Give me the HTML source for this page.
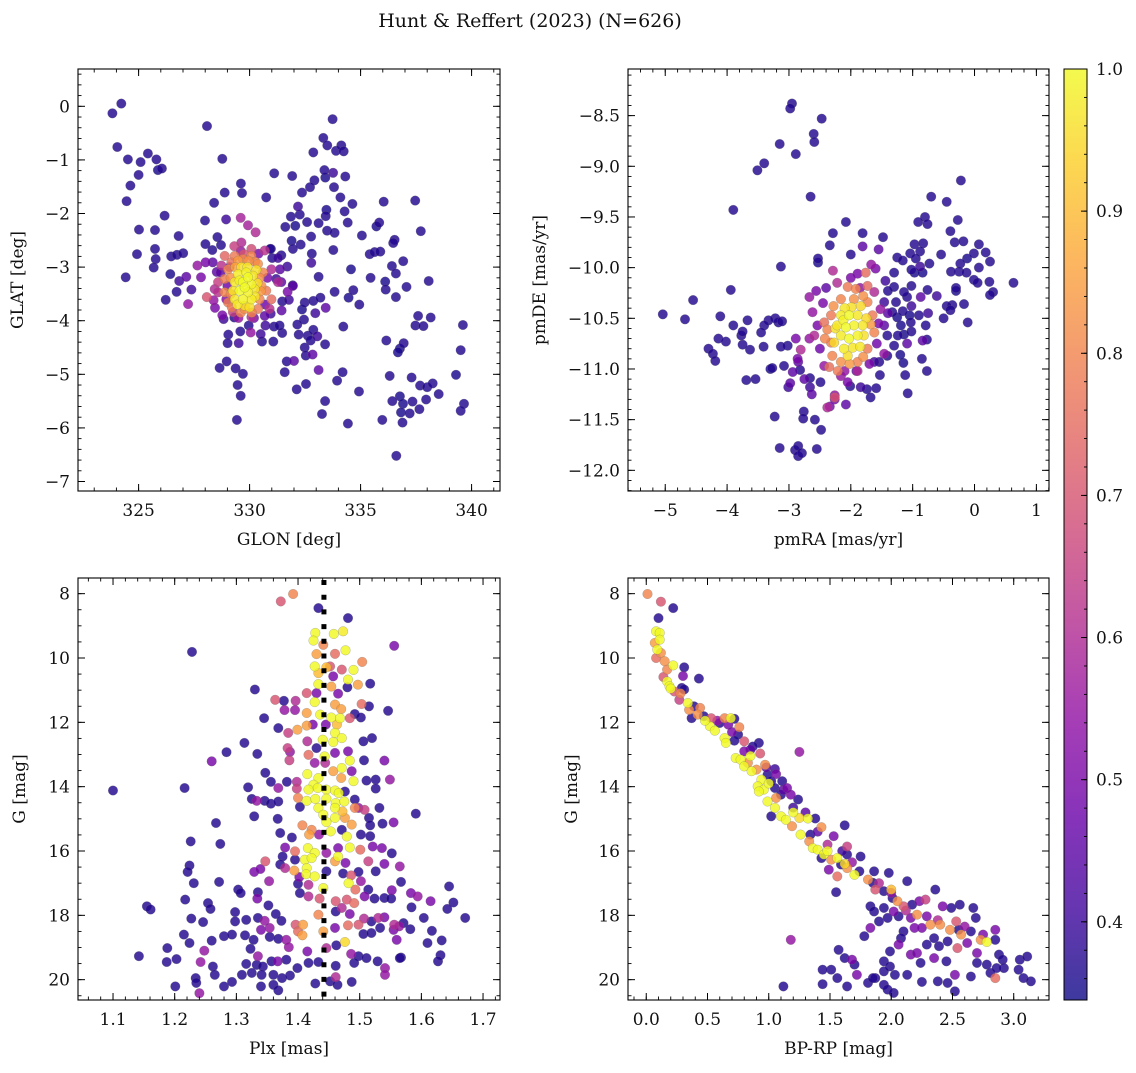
<!DOCTYPE html>
<html><head><meta charset="utf-8">
<style>
html,body{margin:0;padding:0;background:#fff;}
svg text{font-family:"DejaVu Serif","Liberation Serif",serif;fill:#111;}
</style></head>
<body>
<svg id="fig" width="1136" height="1068" viewBox="0 0 1136 1068" xmlns="http://www.w3.org/2000/svg">
<defs>
<linearGradient id="cbgrad" x1="0" y1="1" x2="0" y2="0">
<stop offset="0" stop-color="#0d0887"/><stop offset="0.1" stop-color="#41049d"/><stop offset="0.2" stop-color="#6a00a8"/><stop offset="0.3" stop-color="#8f0da4"/><stop offset="0.4" stop-color="#b12a90"/><stop offset="0.5" stop-color="#cc4778"/><stop offset="0.6" stop-color="#e16462"/><stop offset="0.7" stop-color="#f2844b"/><stop offset="0.8" stop-color="#fca636"/><stop offset="0.9" stop-color="#fcce25"/><stop offset="1" stop-color="#f0f921"/>
</linearGradient>
</defs>
<text x="530" y="27" font-size="19" text-anchor="middle">Hunt &amp; Reffert (2023) (N=626)</text>
</svg>
<script>
// ---- data: [x, y, probability] ----
const skyPoints = [
[323.82,-0.13,.37],[324.22,0.05,.37],[324.04,-0.76,.37],[324.52,-0.99,.37],[325.09,-1.04,.37],[325.42,-0.88,.37],[325.80,-0.99,.37],[325.87,-1.19,.36],[326.05,-1.16,.37],[325.00,-1.28,.37],[324.63,-1.48,.37],[324.46,-1.77,.37],[328.08,-0.37,.37],[328.77,-0.98,.37],[326.17,-2.04,.37],[325.02,-2.30,.37],[325.74,-2.31,.37],[324.93,-2.76,.37],[325.74,-2.66,.37],[325.77,-2.85,.37],[325.68,-3.01,.37],[324.42,-3.19,.37],[326.22,-3.61,.37],[326.80,-2.42,.37],[326.47,-2.80,.37],[326.73,-2.77,.37],[327.01,-2.74,.37],[326.43,-3.13,.36],[326.83,-3.26,.4],[326.71,-3.46,.37],[327.38,-3.42,.4],[327.15,-3.18,.45],[327.23,-3.69,.55],[327.99,-2.13,.37],[328.40,-1.80,.37],[328.88,-1.61,.37],[329.61,-1.44,.37],[329.66,-1.62,.37],[328.94,-2.11,.4],[328.01,-2.57,.37],[328.32,-2.68,.37],[328.55,-2.44,.37],[328.71,-2.59,.37],[330.75,-1.70,.37],[331.11,-1.25,.37],[331.92,-1.30,.37],[332.87,-0.86,.37],[333.32,-0.59,.37],[333.50,-0.73,.37],[333.74,-0.24,.37],[333.89,-0.83,.37],[334.13,-0.73,.37],[334.24,-0.84,.37],[333.37,-1.19,.37],[333.41,-1.33,.36],[333.76,-1.24,.4],[334.31,-1.31,.37],[332.92,-1.38,.37],[332.72,-1.51,.37],[332.36,-1.61,.37],[333.80,-1.51,.37],[334.09,-1.70,.37],[334.63,-1.82,.37],[334.28,-1.96,.37],[334.42,-2.17,.37],[333.46,-1.93,.36],[333.43,-2.05,.37],[332.18,-1.87,.4],[331.86,-2.06,.37],[332.26,-2.02,.37],[332.06,-2.23,.36],[331.61,-2.25,.37],[332.59,-2.16,.37],[333.11,-2.18,.37],[333.49,-2.32,.37],[333.83,-2.36,.37],[332.77,-2.43,.37],[331.89,-2.51,.36],[332.30,-2.58,.37],[331.95,-2.66,.37],[331.43,-2.78,.37],[330.96,-2.66,.36],[331.02,-2.83,.37],[332.80,-2.75,.37],[332.78,-2.92,.4],[333.77,-2.68,.37],[331.70,-2.99,.4],[333.11,-3.18,.37],[331.94,-3.34,.37],[333.83,-3.46,.37],[334.57,-3.04,.36],[334.67,-3.43,.37],[334.46,-3.57,.36],[334.94,-3.70,.37],[335.06,-2.41,.37],[335.71,-2.24,.36],[335.84,-2.17,.37],[336.04,-1.78,.37],[335.41,-2.76,.37],[335.63,-2.72,.37],[335.89,-2.71,.37],[336.53,-2.49,.37],[336.47,-2.55,.37],[337.46,-1.76,.37],[337.71,-2.33,.37],[336.41,-2.98,.37],[336.92,-2.89,.37],[336.59,-3.12,.37],[335.45,-3.20,.37],[336.11,-3.27,.36],[336.13,-3.42,.37],[337.07,-3.37,.37],[336.59,-3.56,.37],[338.07,-3.26,.37],[332.48,-3.66,.37],[332.87,-3.63,.37],[333.19,-3.57,.37],[332.36,-3.79,.36],[332.96,-3.86,.4],[333.43,-3.76,.45],[332.45,-3.98,.37],[332.15,-4.07,.37],[332.21,-4.26,.37],[332.62,-4.28,.37],[332.87,-4.17,.37],[333.05,-4.29,.4],[332.75,-4.37,.37],[333.40,-4.44,.37],[332.48,-4.50,.37],[332.84,-4.63,.45],[332.53,-4.65,.37],[334.22,-4.11,.37],[337.59,-3.91,.37],[338.16,-3.94,.37],[337.47,-4.09,.37],[337.83,-4.10,.37],[339.61,-4.08,.37],[336.16,-4.37,.37],[336.94,-4.42,.37],[336.77,-4.52,.36],[336.68,-4.59,.36],[339.51,-4.55,.37],[331.67,-4.76,.37],[331.58,-4.96,.37],[332.00,-4.75,.45],[333.11,-4.92,.45],[334.19,-4.96,.37],[333.94,-5.12,.37],[332.54,-5.18,.37],[332.12,-5.28,.37],[334.93,-5.32,.37],[333.40,-5.50,.37],[333.26,-5.74,.37],[334.43,-5.92,.37],[335.98,-5.85,.37],[336.31,-5.03,.37],[337.30,-5.06,.37],[337.68,-5.21,.37],[338.00,-5.24,.37],[338.25,-5.17,.37],[338.52,-5.37,.37],[337.95,-5.47,.37],[336.43,-5.50,.37],[336.77,-5.41,.36],[336.91,-5.55,.36],[337.34,-5.51,.37],[336.82,-5.71,.36],[337.21,-5.73,.37],[337.65,-5.65,.37],[336.89,-5.90,.37],[339.30,-5.01,.36],[339.66,-5.55,.37],[339.51,-5.68,.37],[336.61,-6.52,.37],[328.65,-4.88,.37],[328.97,-4.76,.37],[329.37,-4.89,.37],[329.70,-4.99,.37],[329.46,-5.20,.37],[329.60,-5.40,.37],[329.43,-5.85,.37],[329.04,-4.26,.37],[329.01,-4.42,.37],[329.51,-4.42,.4],[329.58,-4.20,.37],[329.96,-4.09,.37],[330.05,-4.22,.55],[330.50,-4.25,.4],[330.56,-4.39,.37],[331.07,-4.39,.37],[331.47,-4.23,.37],[331.10,-4.11,.37],[330.71,-4.09,.4],[331.35,-4.09,.37],[328.83,-3.97,.4],[329.31,-3.94,.37],[331.44,-3.81,.45],[330.95,-3.87,.4],[331.47,-3.64,.37],[331.77,-3.61,.4],[331.71,-3.46,.5],[331.95,-3.35,.45],[331.43,-3.28,.45],[331.20,-3.22,.4],[331.37,-3.04,.45],[331.28,-2.83,.4],[330.93,-2.66,.37],[329.60,-2.08,.58],[329.93,-2.22,.58],[330.27,-2.35,.6],[329.63,-2.54,.6],[329.31,-2.61,.65],[329.75,-2.76,.7],[328.02,-2.91,.5],[327.65,-2.97,.55],[327.81,-3.19,.5],[328.07,-3.56,.7],[328.38,-3.62,.55],[328.44,-3.76,.5],[328.52,-3.09,.45],[328.34,-2.91,.45],[328.77,-3.90,.5],[330.08,-3.93,.6],[330.68,-3.91,.45],
[328.73,-2.97,.62],[328.58,-3.28,.65],[328.58,-3.47,.62],[330.98,-3.04,.6],[331.28,-3.28,.6],[330.90,-3.78,.62],[329.25,-3.84,.65],[330.08,-2.66,.68],[330.68,-2.69,.62],[328.43,-3.41,.6],
[329.10,-3.00,.5],[329.00,-3.35,.48],[328.95,-3.60,.52],[330.80,-3.20,.5],[330.70,-3.70,.48],[330.20,-3.95,.5],[329.50,-3.95,.55],[329.60,-2.70,.55],[330.40,-2.75,.5],[328.70,-3.10,.45],
[329.33,-2.79,.78],[330.08,-2.79,.8],[330.38,-2.94,.82],[330.60,-3.10,.8],[330.53,-3.35,.82],[330.45,-3.60,.8],[330.38,-3.78,.78],[329.78,-3.78,.82],[329.03,-3.66,.78],[328.88,-3.47,.8],[328.88,-3.22,.78],[329.03,-3.04,.8],[329.48,-2.88,.84],[330.98,-3.60,.75],[330.75,-3.44,.78],[329.18,-2.91,.76],[328.88,-2.79,.74],
[329.70,-2.85,.8],[329.95,-2.88,.82],[330.25,-2.90,.8],[329.15,-3.20,.82],[329.15,-3.50,.8],[329.20,-3.75,.78],[330.45,-3.20,.82],[330.50,-3.45,.84],[330.10,-3.85,.8],[329.60,-3.85,.8],[329.35,-3.00,.86],
[329.48,-3.13,.98],[329.85,-3.10,.99],[330.15,-3.16,.97],[329.33,-3.28,.97],[329.70,-3.28,1.0],[330.08,-3.32,.99],[329.55,-3.44,1.0],[329.93,-3.47,.99],[330.23,-3.41,.97],[329.33,-3.60,.97],[329.70,-3.60,.99],[330.08,-3.60,.98],[329.78,-3.72,.96],[329.63,-3.00,.96],[329.25,-3.44,.96],[329.93,-3.19,1.0],[329.78,-3.38,1.0],
[329.90,-3.00,.97],[330.30,-3.05,.96],[329.45,-3.70,.97],[330.00,-3.75,.96],[330.25,-3.55,.97],[329.55,-3.25,.99],[330.35,-3.30,.96]
];
const pmPoints = [
[-2.95,-8.38,.37],[-2.98,-8.43,.37],[-2.47,-8.53,.37],[-2.60,-8.68,.37],[-2.59,-8.76,.37],[-3.15,-8.78,.37],[-2.89,-8.88,.37],[-3.40,-8.97,.37],[-3.51,-9.04,.37],[-2.65,-9.30,.37],[-3.90,-9.43,.37],[-0.22,-9.14,.37],[-0.70,-9.30,.37],[-0.45,-9.35,.37],[-0.80,-9.50,.37],[-0.91,-9.55,.37],[-0.76,-9.57,.37],[-0.27,-9.53,.37],[-0.39,-9.64,.37],[-0.32,-9.75,.37],[-0.18,-9.74,.37],[-2.08,-9.55,.37],[-2.29,-9.66,.37],[-1.81,-9.66,.37],[-1.48,-9.70,.37],[-2.34,-9.78,.37],[-1.81,-9.79,.45],[-1.55,-9.82,.45],[-2.00,-9.87,.37],[-2.53,-9.91,.37],[-2.53,-9.95,.36],[-3.13,-9.99,.37],[-1.25,-9.90,.37],[-1.16,-9.93,.37],[-1.04,-9.86,.37],[-0.97,-9.77,.37],[-0.83,-9.76,.37],[-0.88,-9.84,.37],[-0.95,-9.91,.37],[-0.54,-9.87,.37],[0.07,-9.77,.37],[-0.01,-9.86,.37],[0.18,-9.85,.37],[-0.12,-9.91,.36],[-0.23,-9.96,.37],[0.25,-9.94,.37],[0.07,-10.00,.37],[-0.25,-10.04,.37],[-0.38,-10.04,.37],[-0.13,-10.05,.37],[-0.01,-10.12,.37],[0.24,-10.14,.37],[0.30,-10.24,.37],[0.25,-10.27,.37],[0.05,-10.15,.37],[0.63,-10.15,.37],[-0.30,-10.20,.37],[-0.30,-10.23,.36],[-0.17,-10.36,.37],[-0.36,-10.37,.37],[-0.45,-10.38,.37],[-0.39,-10.42,.37],[-0.50,-10.50,.37],[-0.11,-10.54,.37],[-0.76,-10.22,.37],[-0.61,-10.28,.4],[-0.87,-10.29,.45],[-0.75,-10.45,.4],[-0.79,-10.57,.37],[-0.77,-10.71,.37],[-0.84,-10.72,.45],[-0.85,-10.90,.37],[-0.77,-11.02,.37],[-1.08,-11.24,.37],[-1.12,-11.06,.37],[-1.15,-10.94,.36],[-1.09,-10.75,.45],[-1.02,-10.63,.37],[-1.03,-10.54,.37],[-1.14,-10.66,.36],[-1.24,-10.67,.37],[-1.19,-10.57,.36],[-1.02,-10.38,.4],[-0.90,-10.47,.37],[-1.05,-10.47,.36],[-1.16,-10.43,.37],[-1.09,-10.29,.37],[-1.02,-10.18,.37],[-1.14,-10.24,.37],[-1.02,-10.02,.37],[-0.97,-10.05,.36],[-0.88,-9.99,.4],[-0.73,-9.96,.37],[-0.84,-10.05,.36],[-1.30,-10.05,.37],[-1.44,-10.13,.4],[-1.30,-10.19,.37],[-1.40,-10.23,.37],[-1.46,-10.34,.4],[-1.27,-10.34,.37],[-1.33,-10.44,.37],[-1.25,-10.49,.36],[-1.46,-10.57,.45],[-1.41,-10.67,.37],[-1.30,-10.77,.37],[-1.41,-10.87,.37],[-1.20,-10.86,.36],[-1.54,-10.93,.37],[-1.62,-10.93,.4],[-1.53,-11.06,.37],[-1.74,-11.20,.37],[-1.59,-11.19,.37],[-1.68,-11.28,.37],[-1.84,-11.18,.4],[-2.01,-11.17,.37],[-1.91,-11.02,.45],[-2.08,-11.35,.45],[-2.26,-11.26,.55],[-2.26,-11.30,.5],[-2.34,-11.37,.5],[-2.76,-11.42,.37],[-2.77,-11.49,.37],[-2.58,-11.50,.37],[-2.48,-11.60,.37],[-3.23,-11.47,.37],[-3.15,-11.78,.37],[-2.90,-11.80,.37],[-2.85,-11.76,.37],[-2.85,-11.86,.37],[-2.79,-11.83,.37],[-2.55,-11.79,.37],[-2.63,-11.25,.45],[-2.66,-11.18,.4],[-2.49,-11.13,.37],[-2.66,-11.09,.37],[-2.75,-11.10,.45],[-2.98,-11.14,.45],[-3.01,-11.18,.4],[-2.94,-11.03,.45],[-3.08,-10.97,.37],[-2.85,-10.93,.45],[-2.82,-11.01,.37],[-2.89,-10.70,.5],[-3.02,-10.77,.37],[-3.13,-10.78,.37],[-3.17,-10.54,.37],[-3.22,-10.50,.37],[-3.11,-10.53,.37],[-3.33,-10.52,.37],[-3.40,-10.57,.37],[-3.45,-10.64,.37],[-3.41,-10.78,.37],[-3.27,-10.99,.37],[-3.30,-11.00,.36],[-3.69,-11.11,.37],[-3.54,-11.10,.37],[-3.63,-10.81,.37],[-3.75,-10.76,.37],[-3.77,-10.67,.37],[-3.75,-10.63,.37],[-3.67,-10.52,.37],[-3.90,-10.57,.37],[-4.11,-10.48,.37],[-4.14,-10.70,.37],[-4.02,-10.73,.37],[-4.30,-10.80,.37],[-4.23,-10.85,.37],[-4.19,-10.92,.37],[-3.94,-10.22,.37],[-4.55,-10.32,.37],[-4.68,-10.51,.37],[-5.04,-10.46,.37],
[-2.67,-10.29,.55],[-2.62,-10.44,.55],[-2.56,-10.23,.5],[-2.67,-10.70,.55],[-2.81,-10.81,.6],[-2.86,-10.90,.5],[-2.38,-11.38,.6],[-2.26,-11.28,.7],[-2.54,-10.57,.5],[-2.59,-10.67,.6],[-2.43,-10.97,.55],[-2.16,-11.07,.55],[-2.05,-11.13,.5],[-2.29,-10.03,.6],[-2.22,-10.15,.6],[-1.67,-9.97,.55],[-1.60,-10.01,.5],[-1.76,-10.05,.75],[-1.89,-10.06,.5],[-1.73,-10.18,.75],[-1.62,-10.24,.6],[-1.52,-10.41,.55],[-1.46,-10.85,.55],[-1.89,-11.02,.6],
[-2.45,-10.35,.5],[-2.50,-10.80,.48],[-1.55,-10.55,.5],[-1.58,-10.75,.48],[-1.70,-10.95,.5],[-2.00,-10.10,.5],[-1.85,-10.20,.55],[-2.40,-10.20,.45],[-1.40,-10.45,.45],[-2.10,-11.02,.55],
[-2.05,-10.19,.78],[-1.92,-10.21,.8],[-1.95,-10.31,.82],[-2.16,-10.31,.8],[-2.32,-10.47,.78],[-2.38,-10.61,.8],[-2.32,-10.74,.78],[-2.30,-10.87,.8],[-2.16,-10.93,.82],[-1.89,-10.93,.8],[-1.73,-10.80,.78],[-1.62,-10.64,.8],[-1.65,-10.47,.78],[-1.73,-10.34,.8],[-2.35,-10.98,.76],[-2.21,-11.02,.78],[-2.43,-10.54,.76],
[-2.28,-10.38,.82],[-1.80,-10.28,.82],[-1.68,-10.56,.84],[-1.80,-10.88,.82],[-2.02,-10.95,.84],[-2.42,-10.70,.8],
[-2.16,-10.47,.98],[-2.03,-10.47,1.0],[-1.89,-10.47,.97],[-2.22,-10.57,.97],[-2.08,-10.59,1.0],[-1.95,-10.57,.99],[-1.81,-10.57,.97],[-2.16,-10.67,.98],[-2.03,-10.70,1.0],[-1.89,-10.67,.99],[-1.79,-10.67,.96],[-2.11,-10.80,.98],[-1.97,-10.79,.97],[-2.05,-10.87,.96],[-2.27,-10.74,.95],[-1.99,-10.39,.96],[-1.84,-10.38,.95],
[-2.10,-10.40,.97],[-2.25,-10.60,.96],[-1.85,-10.78,.97],[-1.75,-10.50,.95],[-2.12,-10.52,.99]
];
const plxPoints = [
[1.392,8.01,.8],[1.372,8.24,.7],[1.433,8.45,.37],[1.481,8.76,.37],[1.428,9.22,1],[1.425,9.46,1],[1.458,9.25,1],[1.473,9.17,.98],[1.441,9.59,.8],[1.556,9.62,.5],[1.228,9.81,.37],[1.477,9.76,1],[1.460,9.87,.75],[1.430,9.88,.85],[1.427,10.26,1],[1.446,10.29,.9],[1.452,10.26,.7],[1.471,10.36,.7],[1.490,10.37,1],[1.504,10.12,.8],[1.433,10.47,.9],[1.457,10.57,.5],[1.481,10.67,1],[1.497,10.83,.85],[1.517,10.80,.37],[1.433,10.81,1],[1.454,10.89,.85],[1.330,10.98,.37],[1.414,11.09,.7],[1.430,11.09,.5],[1.465,11.11,.5],[1.480,10.91,.37],[1.363,11.30,.7],[1.377,11.33,.37],[1.396,11.33,.6],[1.427,11.37,1],[1.460,11.45,.85],[1.470,11.59,.85],[1.503,11.43,.75],[1.515,11.50,.37],[1.546,11.64,.37],[1.378,11.62,.55],[1.395,11.62,.55],[1.414,11.71,.85],[1.436,11.76,1],[1.454,11.85,1],[1.468,11.87,1],[1.484,11.87,.7],[1.492,11.74,.37],[1.502,11.85,.37],[1.345,11.87,.37],[1.399,12.23,.85],[1.414,12.10,.85],[1.424,12.07,.5],[1.445,12.07,.5],[1.463,12.07,.9],[1.460,12.33,1],[1.471,12.49,1],[1.457,12.61,1],[1.384,12.33,.65],[1.368,12.18,.37],[1.313,12.64,.37],[1.284,12.93,.37],[1.334,12.98,.37],[1.260,13.21,.5],[1.383,12.80,.65],[1.415,12.59,.6],[1.430,12.80,.37],[1.440,12.54,1],[1.417,13.01,.75],[1.387,12.92,.55],[1.386,13.18,.65],[1.443,13.06,1],[1.460,12.95,.5],[1.481,12.90,.5],[1.484,13.19,1],[1.506,12.59,.37],[1.520,12.49,.37],[1.507,13.18,.37],[1.540,13.19,.5],[1.444,13.26,.6],[1.427,13.26,.55],[1.471,13.42,1],[1.457,13.52,.85],[1.487,13.52,.5],[1.470,13.73,.85],[1.490,13.83,1],[1.347,13.57,.37],[1.356,13.85,.37],[1.382,13.85,.37],[1.398,13.85,.6],[1.415,13.61,1],[1.433,13.73,1],[1.425,13.94,1],[1.417,14.09,1],[1.432,14.04,1],[1.446,14.09,1],[1.460,14.12,1],[1.466,14.20,1],[1.476,14.15,.37],[1.511,13.81,.37],[1.526,13.78,.37],[1.526,14.06,.37],[1.549,13.78,.55],[1.368,14.04,.55],[1.398,14.06,.65],[1.319,14.02,.37],[1.216,14.04,.37],[1.100,14.12,.37],[1.325,14.38,.37],[1.333,14.44,.55],[1.346,14.44,.37],[1.356,14.53,.37],[1.368,14.46,.37],[1.400,14.35,.8],[1.414,14.44,1],[1.428,14.38,1],[1.446,14.37,1],[1.461,14.51,1],[1.475,14.46,1],[1.492,14.40,.37],[1.498,14.66,.55],[1.508,14.72,.65],[1.403,14.63,.37],[1.433,14.66,1],[1.460,14.66,1],[1.472,14.77,.9],[1.492,14.66,.8],[1.532,14.66,.37],[1.591,14.84,.37],[1.329,14.92,.37],[1.367,15.00,.37],[1.267,15.13,.37],[1.441,14.87,1],[1.460,14.97,1],[1.476,14.97,.85],[1.487,15.18,.85],[1.515,14.97,.37],[1.517,15.20,.37],[1.537,15.15,.37],[1.555,15.11,.5],[1.446,15.10,1],[1.407,15.20,.8],[1.422,15.34,.8],[1.371,15.44,.37],[1.390,15.58,.37],[1.418,15.49,.85],[1.434,15.49,.55],[1.453,15.39,1],[1.471,15.34,.37],[1.479,15.55,1],[1.502,15.49,.37],[1.517,15.54,.37],[1.226,15.70,.37],[1.274,15.78,.37],[1.379,15.89,.5],[1.395,16.01,.75],[1.416,15.91,1],[1.427,16.06,1],[1.446,16.06,.55],[1.465,15.91,.5],[1.484,15.89,1],[1.501,15.96,.75],[1.521,15.86,.5],[1.536,15.91,.5],[1.552,16.07,.37],[1.375,16.17,.37],[1.395,16.27,.37],[1.411,16.27,1],[1.422,16.22,1],[1.465,16.17,1],[1.460,16.32,.85],[1.477,16.37,.5],[1.514,16.32,.65],[1.540,16.40,.5],[1.565,16.48,.55],[1.347,16.32,.7],[1.329,16.65,.5],[1.339,16.56,.5],[1.224,16.45,.37],[1.221,16.65,.37],[1.371,16.42,.37],[1.379,16.53,.6],[1.394,16.61,.85],[1.414,16.53,1],[1.413,16.72,1],[1.427,16.79,1],[1.402,16.81,.5],[1.446,16.63,.37],[1.473,16.70,.37],[1.486,16.76,.7],[1.498,16.65,.37],[1.526,16.63,.37],[1.231,17.00,.37],[1.272,16.96,.37],[1.353,16.94,.55],[1.400,17.02,.37],[1.417,17.05,.6],[1.441,17.15,1],[1.482,17.00,1],[1.493,17.20,.75],[1.502,16.94,.55],[1.514,17.20,.37],[1.567,16.96,.37],[1.645,17.10,.37],[1.303,17.20,.37],[1.307,17.31,.37],[1.335,17.28,.37],[1.403,17.31,.37],[1.417,17.41,.6],[1.435,17.48,.7],[1.461,17.56,.7],[1.479,17.51,.7],[1.491,17.62,.75],[1.508,17.41,.5],[1.524,17.48,.37],[1.552,17.22,.5],[1.540,17.46,.37],[1.551,17.48,.37],[1.583,17.31,.5],[1.594,17.41,.55],[1.615,17.56,.5],[1.652,17.60,.37],[1.642,17.80,.37],[1.217,17.51,.37],[1.254,17.62,.37],[1.258,17.80,.37],[1.334,17.48,.5],[1.352,17.69,.37],[1.155,17.72,.37],[1.161,17.82,.37],[1.298,17.90,.37],[1.316,18.14,.37],[1.335,18.08,.37],[1.346,18.17,.55],[1.364,17.96,.37],[1.373,18.17,.37],[1.396,18.29,.7],[1.408,18.29,.85],[1.433,17.98,.8],[1.461,17.88,.37],[1.471,17.77,.6],[1.484,17.96,.5],[1.481,18.31,.75],[1.498,18.29,.7],[1.507,18.10,.6],[1.519,18.19,.37],[1.530,18.08,.6],[1.540,18.06,.5],[1.556,18.29,.6],[1.564,18.34,.55],[1.584,17.75,.37],[1.604,18.08,.37],[1.671,18.08,.37],[1.227,18.10,.37],[1.246,18.21,.37],[1.298,18.19,.37],[1.340,18.45,.5],[1.354,18.39,.55],[1.400,18.50,.75],[1.407,18.62,.85],[1.441,18.50,.85],[1.460,18.39,.5],[1.506,18.58,.37],[1.519,18.55,.37],[1.533,18.39,.37],[1.555,18.45,.5],[1.571,18.24,.37],[1.582,18.43,.37],[1.617,18.48,.37],[1.215,18.60,.37],[1.280,18.65,.37],[1.293,18.60,.37],[1.314,18.62,.37],[1.328,18.76,.37],[1.354,18.67,.37],[1.368,18.73,.37],[1.381,18.76,.55],[1.476,18.83,.95],[1.560,18.76,.5],[1.633,18.78,.37],[1.610,18.86,.37],[1.224,18.86,.37],[1.260,18.79,.37],[1.188,19.02,.37],[1.142,19.27,.37],[1.248,19.10,.55],[1.323,19.04,.37],[1.385,18.99,.55],[1.415,19.12,.5],[1.446,19.02,.6],[1.462,18.93,.37],[1.486,19.20,.55],[1.498,19.27,.37],[1.511,19.33,.37],[1.567,19.31,.37],[1.631,19.24,.37],[1.627,19.43,.37],[1.187,19.45,.37],[1.203,19.36,.37],[1.242,19.45,.55],[1.262,19.59,.37],[1.316,19.51,.37],[1.335,19.27,.55],[1.333,19.54,.37],[1.343,19.59,.37],[1.357,19.43,.37],[1.367,19.43,.5],[1.381,19.38,.37],[1.399,19.64,.37],[1.417,19.48,.37],[1.433,19.45,.37],[1.461,19.57,.37],[1.491,19.48,.37],[1.529,19.43,.37],[1.565,19.33,.37],[1.541,19.64,.55],[1.265,19.85,.37],[1.309,19.85,.37],[1.325,19.79,.37],[1.341,19.85,.37],[1.360,19.85,.37],[1.374,19.95,.37],[1.387,19.87,.37],[1.234,19.95,.37],[1.235,20.10,.37],[1.201,20.21,.37],[1.280,20.21,.37],[1.293,20.07,.37],[1.340,20.21,.37],[1.360,20.16,.37],[1.368,20.33,.37],[1.240,20.42,.55],[1.428,20.12,.37],[1.452,20.05,.37],[1.461,19.92,.6],[1.464,20.16,.37],[1.487,20.07,.37],[1.541,19.85,.55]
];
const cmdPoints = [
[0.01,8.01,.8],[0.12,8.25,.7],[0.22,8.45,.37],[0.10,8.76,.37],[0.08,9.17,1],[0.11,9.22,1],[0.11,9.43,1],[0.07,9.53,.85],[0.09,9.74,1],[0.12,9.84,.82],[0.08,10.00,.75],[0.15,10.10,.82],[0.22,10.23,1],[0.17,10.36,.8],[0.31,10.29,.37],[0.30,10.56,.5],[0.43,10.64,.37],[0.14,10.59,.7],[0.17,10.73,1],[0.19,10.88,1],[0.23,11.04,.7],[0.29,10.93,.37],[0.31,10.98,.37],[0.27,11.30,.65],[0.34,11.40,1],[0.35,11.61,.82],[0.39,11.50,.37],[0.37,11.87,.37],[0.42,11.76,.82],[0.47,11.81,.37],[0.53,11.87,.7],[0.52,12.12,1],[0.56,12.26,1],[0.60,12.02,.37],[0.64,11.87,.8],[0.69,11.87,1],[0.72,11.89,.37],[0.67,12.07,.5],[0.76,12.15,.8],[0.75,12.38,.37],[0.64,12.49,1],[0.65,12.64,1],[0.80,12.59,.7],[0.72,12.57,.37],[0.92,12.64,.37],[0.93,12.97,.7],[0.80,12.90,.5],[0.87,12.75,.37],[1.25,12.92,.55],[0.73,13.11,1],[0.77,13.16,1],[0.83,13.26,.82],[0.80,13.37,1],[0.86,13.52,1],[0.90,13.47,.82],[0.97,13.32,.82],[0.99,13.63,.37],[1.06,13.61,.5],[0.94,13.78,1],[0.91,13.99,1],[0.96,14.09,1],[0.92,14.15,1],[1.02,13.83,.37],[1.05,14.04,.37],[1.11,13.83,.37],[1.15,14.04,.5],[1.18,14.25,.5],[1.24,14.40,.37],[1.06,14.35,.82],[0.99,14.46,1],[1.05,14.66,1],[1.10,14.25,.37],[1.02,14.92,.37],[1.10,14.92,1],[1.14,15.03,1],[1.19,15.23,.82],[1.25,14.97,.95],[1.32,14.99,1],[1.38,14.99,.37],[1.43,15.26,.82],[1.26,15.49,1],[1.33,15.70,.82],[1.34,15.49,.37],[1.53,15.54,.5],[1.62,15.20,.37],[1.64,15.86,.65],[1.36,15.91,1],[1.40,15.96,1],[1.45,16.11,1],[1.43,16.22,.37],[1.51,16.27,.82],[1.56,16.22,1],[1.64,16.11,.37],[1.59,16.42,.37],[1.49,16.58,.5],[1.56,16.79,.75],[1.64,16.53,.82],[1.70,16.74,1],[1.74,16.63,.37],[1.75,16.17,.37],[1.81,16.89,.82],[1.85,16.99,.37],[1.86,16.63,.37],[1.98,16.68,.37],[1.55,17.28,.37],[1.87,17.20,.7],[1.94,17.25,.37],[2.00,17.20,.9],[2.01,17.46,.37],[2.05,17.56,.82],[2.13,16.94,.37],[1.83,17.72,.37],[1.86,17.88,.37],[1.94,17.77,.37],[2.02,17.88,.5],[2.10,17.72,.7],[2.17,17.67,.37],[2.23,17.56,.5],[2.28,17.51,.65],[2.36,17.20,.37],[2.21,17.98,.82],[2.16,18.08,.5],[2.06,18.03,.37],[1.97,18.08,.37],[1.90,18.19,.37],[1.83,18.39,.5],[2.19,18.39,.5],[2.25,18.39,.5],[2.32,18.29,.82],[2.40,18.29,.82],[2.29,18.03,.5],[2.42,17.72,.5],[2.49,17.77,.37],[2.56,17.67,.37],[2.67,17.77,.37],[2.69,18.08,.37],[2.53,18.19,.7],[2.48,18.45,.82],[2.55,18.45,.37],[2.57,18.60,.82],[2.65,18.50,.37],[2.73,18.76,.82],[2.78,18.83,1],[2.85,18.45,.5],[2.85,18.76,.37],[2.62,18.86,.5],[2.54,19.02,.7],[2.35,18.71,.37],[2.29,18.91,.37],[2.39,18.96,.37],[2.46,18.81,.37],[2.10,18.50,.37],[2.08,18.71,.37],[2.06,18.91,.5],[1.99,19.12,.37],[1.94,19.43,.37],[1.99,19.59,.37],[1.94,19.74,.37],[1.87,19.95,.37],[1.81,20.10,.37],[1.94,20.16,.37],[2.03,19.85,.37],[1.97,20.31,.37],[2.02,20.41,.37],[1.78,18.65,.37],[1.62,19.33,.37],[1.57,19.07,.37],[1.68,19.38,.5],[1.70,19.53,.37],[1.72,19.85,.5],[1.56,19.95,.37],[1.64,20.21,.37],[1.51,19.69,.37],[1.44,19.69,.37],[1.44,20.14,.37],[1.85,19.95,.37],[2.16,19.22,.5],[2.21,19.17,.5],[2.24,19.48,.37],[2.13,19.85,.37],[2.25,20.07,.37],[2.35,19.33,.5],[2.38,20.05,.37],[2.45,19.43,.37],[2.52,19.85,.5],[2.52,20.36,.37],[2.46,20.10,.37],[2.65,19.90,.37],[2.70,19.48,.37],[2.70,19.17,.5],[2.78,19.53,.37],[2.81,19.79,.37],[2.85,19.95,.75],[2.88,19.22,.37],[2.91,19.38,.37],[2.92,19.64,.37],[2.86,19.64,.37],[3.05,19.38,.37],[3.11,19.28,.37],[3.04,19.69,.37],[3.08,19.95,.37],[3.14,20.05,.37],[1.12,20.21,.37],[1.18,18.76,.55],
[0.28,11.10,.8],[0.44,11.55,.8],[0.58,11.95,.55],[0.70,12.30,.5],[0.85,12.85,.45],[0.98,13.40,.45],[1.05,13.45,.4],[1.12,14.10,.45],[1.20,14.65,.4],[1.30,14.80,.45],[1.40,15.40,.45],[1.48,15.80,.6],[1.60,16.00,.4],[1.68,16.35,.55],[1.90,17.00,.6],[2.00,17.30,.55],[2.12,17.85,.6],[2.38,18.15,.6],[2.60,18.35,.55],[2.75,18.60,.5],
[0.20,10.95,1],[0.48,11.95,1],[0.85,13.05,1],[1.00,13.90,1],[1.20,14.80,1],[1.48,16.00,1],[1.62,16.40,.95]
];
// ---- axis ticks ----
const glonTicks = [325, 330, 335, 340];
const glatTicks = [0, -1, -2, -3, -4, -5, -6, -7];
const pmraTicks = [-5, -4, -3, -2, -1, 0, 1];
const pmdeTicks = [-8.5, -9.0, -9.5, -10.0, -10.5, -11.0, -11.5, -12.0];
const plxTicks = [1.1, 1.2, 1.3, 1.4, 1.5, 1.6, 1.7];
const colorIndexTicks = [0.0, 0.5, 1.0, 1.5, 2.0, 2.5, 3.0];
const magTicks = [8, 10, 12, 14, 16, 18, 20];
const colorTicks = [1.0, 0.9, 0.8, 0.7, 0.6, 0.5, 0.4];
const meanParallax = [1.442];
const colorRange = [0.345, 1.0];

const NS = "http://www.w3.org/2000/svg";
const svg = document.getElementById("fig");
const FS = 17;
function mk(tag, attrs, parent) {
  const e = document.createElementNS(NS, tag);
  for (const k in attrs) e.setAttribute(k, attrs[k]);
  (parent || svg).appendChild(e);
  return e;
}
const stops = ["#0d0887","#41049d","#6a00a8","#8f0da4","#b12a90","#cc4778","#e16462","#f2844b","#fca636","#fcce25","#f0f921"];
function hex(h){return [parseInt(h.substr(1,2),16),parseInt(h.substr(3,2),16),parseInt(h.substr(5,2),16)];}
function plasma(p) {
  let t = (p - colorRange[0]) / (colorRange[1] - colorRange[0]);
  t = Math.max(0, Math.min(1, t));
  const f = t * 10, i = Math.min(9, Math.floor(f)), r = f - i;
  const a = hex(stops[i]), b = hex(stops[i + 1]);
  return "rgb(" + a.map((v, k) => Math.round(v + (b[k] - v) * r)).join(",") + ")";
}
function fmt(v, d) { const s = v.toFixed(d); return s.replace("-", "\u2212"); }

function panel(cfg) {
  const g = mk("g", {});
  
  
  const {x0, x1, y0, y1} = cfg.box;
  const sx = v => x0 + (v - cfg.xd[0]) / (cfg.xd[1] - cfg.xd[0]) * (x1 - x0);
  const sy = v => y0 + (v - cfg.yd[0]) / (cfg.yd[1] - cfg.yd[0]) * (y1 - y0);
  const clip = mk("clipPath", {id: cfg.name + "-clip"}, g);
  mk("rect", {x: x0, y: y0, width: x1 - x0, height: y1 - y0}, clip);
  const pts = mk("g", {"clip-path": "url(#" + cfg.name + "-clip)"}, g);
  
  
  const sorted = cfg.data.slice().sort((a, b) => a[2] - b[2]);
  for (const d of sorted) {
    const c = mk("circle", {cx: sx(d[0]).toFixed(1), cy: sy(d[1]).toFixed(1), r: 4.8, fill: plasma(d[2]), "fill-opacity": 0.82, stroke: "#6b6b6b", "stroke-opacity": 0.6, "stroke-width": 0.4}, pts);
    
    
  }
  if (cfg.vline) {
    for (const v of cfg.vline) {
      const l = mk("line", {x1: sx(v), x2: sx(v), y1: y0 + 2, y2: y1, stroke: "#000", "stroke-width": 5, "stroke-dasharray": "5 9.7"}, g);
      
      
    }
  }
  const minor = (lo, hi, step, fn) => { const s = Math.ceil(lo / step - 1e-6); for (let k = s; k * step <= hi + 1e-9; k++) fn(k * step); };
  minor(Math.min(...cfg.xd), Math.max(...cfg.xd), cfg.xminor, v => {
    const X = sx(v);
    mk("line", {x1: X, x2: X, y1: y1, y2: y1 - 3.5, stroke: "#000", "stroke-width": 0.9}, g);
    mk("line", {x1: X, x2: X, y1: y0, y2: y0 + 3.5, stroke: "#000", "stroke-width": 0.9}, g);
  });
  minor(Math.min(...cfg.yd), Math.max(...cfg.yd), cfg.yminor, v => {
    const Y = sy(v);
    mk("line", {x1: x0, x2: x0 + 3.5, y1: Y, y2: Y, stroke: "#000", "stroke-width": 0.9}, g);
    mk("line", {x1: x1, x2: x1 - 3.5, y1: Y, y2: Y, stroke: "#000", "stroke-width": 0.9}, g);
  });
  for (const v of cfg.xt) {
    const X = sx(v);
    mk("line", {x1: X, x2: X, y1: y1, y2: y1 - 7, stroke: "#000", "stroke-width": 1}, g);
    mk("line", {x1: X, x2: X, y1: y0, y2: y0 + 7, stroke: "#000", "stroke-width": 1}, g);
    const t = mk("text", {x: X, y: y1 + 25, "font-size": FS, "text-anchor": "middle"}, g);
    t.textContent = fmt(v, cfg.xdec);
    
    
  }
  for (const v of cfg.yt) {
    const Y = sy(v);
    mk("line", {x1: x0, x2: x0 + 7, y1: Y, y2: Y, stroke: "#000", "stroke-width": 1}, g);
    mk("line", {x1: x1, x2: x1 - 7, y1: Y, y2: Y, stroke: "#000", "stroke-width": 1}, g);
    const t = mk("text", {x: x0 - 8, y: Y + 6, "font-size": FS, "text-anchor": "end"}, g);
    t.textContent = fmt(v, cfg.ydec);
    
    
  }
  const frame = mk("rect", {x: x0, y: y0, width: x1 - x0, height: y1 - y0, fill: "none", stroke: "#000", "stroke-width": 1.1}, g);
  
  
  const xl = mk("text", {x: (x0 + x1) / 2, y: y1 + 54, "font-size": FS, "text-anchor": "middle"}, g);
  xl.textContent = cfg.xlabel;
  
  
  const yc = (y0 + y1) / 2;
  const yl = mk("text", {x: cfg.ylx, y: yc, "font-size": FS, "text-anchor": "middle", transform: "rotate(-90 " + cfg.ylx + " " + yc + ")"}, g);
  yl.textContent = cfg.ylabel;
  
  
}

panel({name: "sky-panel", box: {x0: 78, x1: 500, y0: 69, y1: 491}, xd: [322.27, 341.28], yd: [0.696, -7.177], data: skyPoints, xt: glonTicks, yt: glatTicks, xdec: 0, ydec: 0, xminor: 1, yminor: 0.2, xlabel: "GLON [deg]", ylabel: "GLAT [deg]", ylx: 23});
panel({name: "proper-motion-panel", box: {x0: 628, x1: 1049, y0: 69, y1: 491}, xd: [-5.602, 1.204], yd: [-8.04, -12.204], data: pmPoints, xt: pmraTicks, yt: pmdeTicks, xdec: 0, ydec: 1, xminor: 0.2, yminor: 0.1, xlabel: "pmRA [mas/yr]", ylabel: "pmDE [mas/yr]", ylx: 545});
panel({name: "parallax-panel", box: {x0: 78, x1: 500, y0: 578, y1: 1000}, xd: [1.0432, 1.7275], yd: [7.513, 20.632], data: plxPoints, xt: plxTicks, yt: magTicks, xdec: 1, ydec: 0, xminor: 0.02, yminor: 0.5, xlabel: "Plx [mas]", ylabel: "G [mag]", ylx: 25, vline: meanParallax});
panel({name: "cmd-panel", box: {x0: 628, x1: 1049, y0: 578, y1: 1000}, xd: [-0.149, 3.288], yd: [7.513, 20.632], data: cmdPoints, xt: colorIndexTicks, yt: magTicks, xdec: 1, ydec: 0, xminor: 0.1, yminor: 0.5, xlabel: "BP-RP [mag]", ylabel: "G [mag]", ylx: 577});

(function () {
  const cb = mk("g", {});
  
  
  const x0 = 1064, x1 = 1087, y0 = 69, y1 = 1000;
  const cy = v => y1 - (v - colorRange[0]) / (colorRange[1] - colorRange[0]) * (y1 - y0);
  const r = mk("rect", {x: x0, y: y0, width: x1 - x0, height: y1 - y0, fill: "url(#cbgrad)", "fill-opacity": 0.8, stroke: "#000", "stroke-width": 1}, cb);
  
  
  for (let k = 18; k <= 50; k++) {
    const v = k * 0.02; if (v < colorRange[0]) continue; const Y = cy(v);
    mk("line", {x1: x1, x2: x1 - 3, y1: Y, y2: Y, stroke: "#000", "stroke-width": 0.9}, cb);
  }
  for (const v of colorTicks) {
    const Y = cy(v);
    mk("line", {x1: x1, x2: x1 - 6, y1: Y, y2: Y, stroke: "#000", "stroke-width": 1}, cb);
    const t = mk("text", {x: x1 + 9, y: Y + 6, "font-size": FS}, cb);
    t.textContent = v.toFixed(1);
    
    
  }
})();
</script>
</body></html>
